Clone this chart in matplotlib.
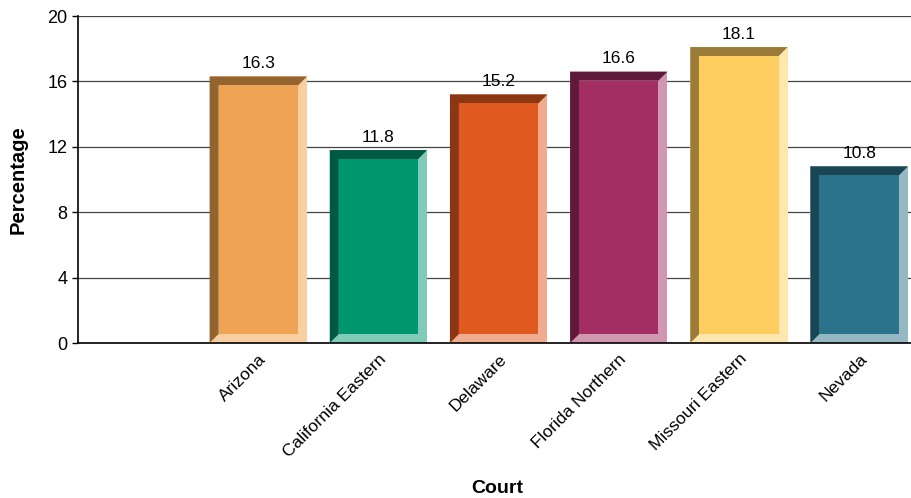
import numpy as np
import matplotlib
matplotlib.use('Agg')
import matplotlib.pyplot as plt
import matplotlib.transforms as mtransforms
from matplotlib.patches import Polygon

plt.rcParams['font.family'] = ['Liberation Sans', 'DejaVu Sans']

courts = ['Arizona', 'California Eastern', 'Delaware', 'Florida Northern',
          'Missouri Eastern', 'Nevada']
percent = [16.3, 11.8, 15.2, 16.6, 18.1, 10.8]

face_colors = ['#EFA355', '#009670', '#E05A1F', '#A32E63', '#FDCD5F', '#2A738A']
dark_colors = ['#946430', '#005A43', '#8C3714', '#5F1A3A', '#9A7B38', '#1A4654']
light_colors = ['#F8CFA0', '#7FCBB7', '#EFAC8E', '#D196B0', '#FEE6AF', '#94B9C4']

fig = plt.figure(figsize=(9.12, 4.98), dpi=100)
ax = fig.add_axes([78/912, 1-343/498, 834/912, 327/498])

xlim = (-0.5, 6.44)
ylim = (0, 20)
ax.set_xlim(*xlim)
ax.set_ylim(*ylim)

# bevel thickness in data units (about 9 px)
px_x = 834 / (xlim[1] - xlim[0])
px_y = 327 / (ylim[1] - ylim[0])
dx = 9 / px_x
dy = 9 / px_y

ax.set_yticks(np.arange(0, 21, 4))
ax.yaxis.grid(True, color='#444444', lw=0.9)
ax.set_axisbelow(True)

width = 0.81
x = np.arange(len(courts)) + 1
bars = ax.bar(x, percent, width=width, color=light_colors, zorder=2)
for b, h, dc, fc in zip(bars, percent, dark_colors, face_colors):
    x0 = b.get_x()
    x1 = x0 + b.get_width()
    ax.add_patch(Polygon([(x0, 0), (x0, h), (x1, h), (x1 - dx, h - dy),
                          (x0 + dx, h - dy), (x0 + dx, dy)],
                         closed=True, color=dc, lw=0, zorder=3))
    ax.add_patch(plt.Rectangle((x0 + dx, dy), x1 - x0 - 2*dx, h - 2*dy,
                               color=fc, lw=0, zorder=4))
    ax.annotate(f'{h:.1f}', (b.get_x() + b.get_width()/2, h),
                xytext=(0, 4), textcoords='offset points',
                ha='center', va='bottom', fontsize=12.5)

ax.set_xticks(x)
ax.set_xticklabels(courts, rotation=45, ha='right', va='top',
                   rotation_mode='anchor', fontsize=12.5)
offset = mtransforms.ScaledTranslation(12/100, 0, fig.dpi_scale_trans)
for lab in ax.get_xticklabels():
    lab.set_transform(lab.get_transform() + offset)
ax.tick_params(axis='x', length=0, pad=6)
ax.tick_params(axis='y', labelsize=13, length=4, width=1, direction='out')

for s in ['top', 'right']:
    ax.spines[s].set_visible(False)
ax.spines['left'].set_linewidth(1.2)
ax.spines['bottom'].set_linewidth(1.2)

ax.set_ylabel('Percentage', fontsize=14.5, fontweight='bold', labelpad=14)
fig.text(497/912, 1-488/498, 'Court', fontsize=14, fontweight='bold',
         ha='center', va='center')

fig.savefig('out.png', dpi=100)
